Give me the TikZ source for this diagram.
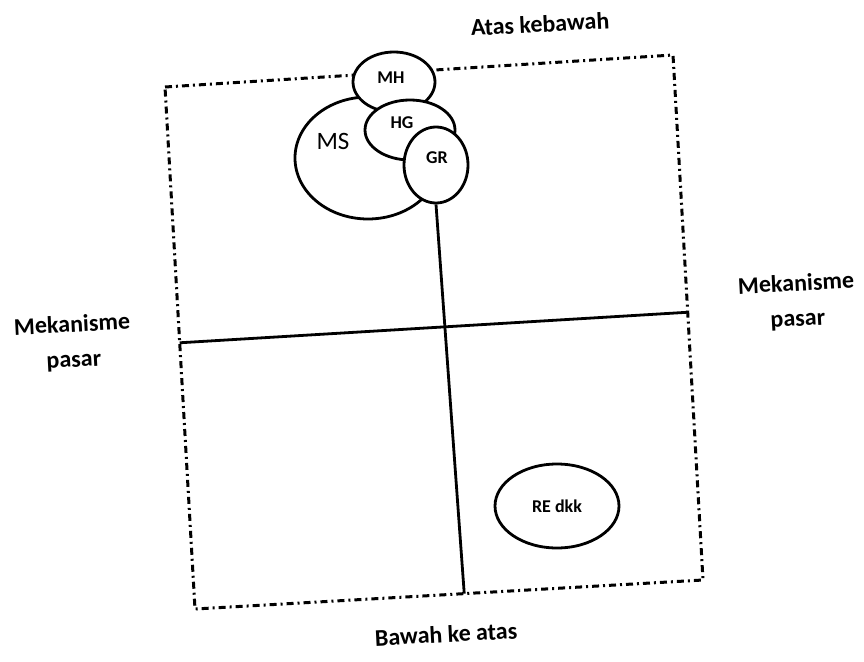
\documentclass[tikz,border=0pt]{standalone}
\usepackage{fontspec}
\setmainfont{Carlito}
\usetikzlibrary{shapes.geometric,calc}

\begin{document}
\begin{tikzpicture}[x=1pt,y=-1pt,
    frame/.style={line width=3pt,dash pattern=on 7pt off 4pt on 2pt off 4pt},
    axis/.style={line width=2.8pt},
    blob/.style={ellipse,draw,fill=white,line width=2.8pt,inner sep=0pt,
      font=\bfseries\fontsize{18}{21}\selectfont},
    tag/.style={inner sep=0pt,font=\bfseries\fontsize{18}{21}\selectfont},
    side/.style={align=center,rotate=3,
      font=\bfseries\fontsize{24}{35}\selectfont}]
  \useasboundingbox (0,0) rectangle (864,661);

  % corners of the frame
  \coordinate (tl) at (165,87);
  \coordinate (tr) at (673,55);
  \coordinate (br) at (703,580);
  \coordinate (bl) at (195,609);
  \coordinate (west) at ($(tl)!0.49!(bl)$);
  \coordinate (east) at ($(tr)!0.49!(br)$);
  \coordinate (south) at ($(bl)!0.53!(br)$);

  \draw[frame] (tl) -- (tr) -- (br) -- (bl) -- cycle;
  \draw[axis] (west) -- (east);

  % overlapping groups, drawn back to front
  \node[blob,minimum width=146pt,minimum height=122pt] (ms) at (368,158) {};
  \node[tag,font=\fontsize{25}{28}\selectfont] (mslabel) at (333,141) {MS};
  \node[blob,minimum width=82pt,minimum height=60pt] (mh) at (394,82) {};
  \node[tag] (mhlabel) at (391,78) {MH};
  \node[blob,minimum width=90pt,minimum height=60pt] (hg) at (410,130) {};
  \node[tag] (hglabel) at (402,123) {HG};
  \node[blob,minimum width=64pt,minimum height=76pt] (gr) at (436,165) {};
  \node[tag] (grlabel) at (437,158) {GR};
  \node[blob,minimum width=124pt,minimum height=84pt] (re) at (557,506) {RE dkk};

  \draw[axis] (gr.south) -- (south);

  \node[side] (top) at (540,24) {Atas kebawah};
  \node[side] (bottom) at (446,634) {Bawah ke atas};
  \node[side] (left) at (73,343) {Mekanisme\\pasar};
  \node[side] (right) at (797,302) {Mekanisme\\pasar};
\end{tikzpicture}
\end{document}
